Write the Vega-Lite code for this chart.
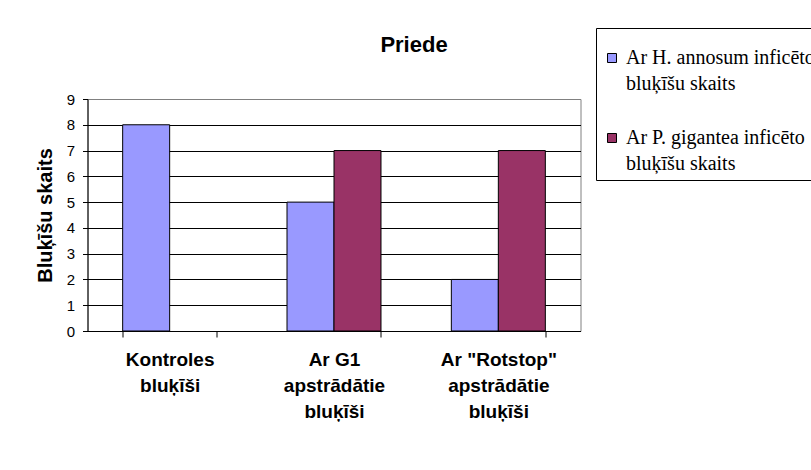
{
  "$schema": "https://vega.github.io/schema/vega-lite/v6.json",
  "width": 493,
  "height": 232,
  "autosize": "none",
  "padding": {"left": 87.5, "top": 99, "right": 230.5, "bottom": 139},
  "background": "white",
  "title": {
    "text": "Priede",
    "anchor": "middle",
    "frame": "group",
    "dx": 80,
    "offset": 0,
    "dy": 46,
    "baseline": "alphabetic",
    "font": "Liberation Sans",
    "fontSize": 22,
    "fontWeight": "bold",
    "color": "black"
  },
  "data": {
    "values": [
      {"group": "Kontroles bluķīši", "series": "Ar H. annosum inficēto bluķīšu skaits", "count": 8},
      {"group": "Ar G1 apstrādātie bluķīši", "series": "Ar H. annosum inficēto bluķīšu skaits", "count": 5},
      {"group": "Ar G1 apstrādātie bluķīši", "series": "Ar P. gigantea inficēto bluķīšu skaits", "count": 7},
      {"group": "Ar \"Rotstop\" apstrādātie bluķīši", "series": "Ar H. annosum inficēto bluķīšu skaits", "count": 2},
      {"group": "Ar \"Rotstop\" apstrādātie bluķīši", "series": "Ar P. gigantea inficēto bluķīšu skaits", "count": 7}
    ]
  },
  "mark": {"type": "bar", "stroke": "black", "strokeWidth": 1},
  "encoding": {
    "x": {
      "field": "group",
      "type": "nominal",
      "sort": ["Kontroles bluķīši", "Ar G1 apstrādātie bluķīši", "Ar \"Rotstop\" apstrādātie bluķīši"],
      "scale": {"paddingInner": 0.428, "paddingOuter": 0.214},
      "axis": {
        "title": null,
        "tickBand": "extent",
        "tickSize": 6,
        "tickColor": "black",
        "domainColor": "black",
        "labelAngle": 0,
        "labelFont": "Liberation Sans",
        "labelFontSize": 19,
        "labelFontWeight": "bold",
        "labelColor": "black",
        "labelLineHeight": 26,
        "labelPadding": 13,
        "labelLimit": 0,
        "labelExpr": "datum.value == 'Kontroles bluķīši' ? ['Kontroles', 'bluķīši'] : datum.value == 'Ar G1 apstrādātie bluķīši' ? ['Ar G1', 'apstrādātie', 'bluķīši'] : datum.value == 'Ar \"Rotstop\" apstrādātie bluķīši' ? ['Ar \"Rotstop\"', 'apstrādātie', 'bluķīši'] : ''"
      }
    },
    "xOffset": {
      "field": "series",
      "type": "nominal",
      "scale": {"domain": ["Ar H. annosum inficēto bluķīšu skaits", "Ar P. gigantea inficēto bluķīšu skaits"], "paddingInner": 0, "paddingOuter": 0}
    },
    "y": {
      "field": "count",
      "type": "quantitative",
      "scale": {"domain": [0, 9], "nice": false},
      "axis": {
        "title": "Bluķīšu skaits",
        "titleFont": "Liberation Sans",
        "titleFontSize": 20,
        "titleFontWeight": "bold",
        "titleColor": "black",
        "titleAngle": 270,
        "titleX": -36.5,
        "titleY": 116,
        "titleAlign": "center",
        "titleBaseline": "alphabetic",
        "values": [0, 1, 2, 3, 4, 5, 6, 7, 8, 9],
        "labelFont": "Liberation Sans",
        "labelFontSize": 15,
        "labelColor": "black",
        "labelPadding": 8,
        "tickSize": 5,
        "tickColor": "black",
        "domainColor": "black",
        "grid": true,
        "gridColor": {"condition": {"test": "datum.value === 9", "value": "#808080"}, "value": "black"},
        "gridOpacity": 1
      }
    },
    "color": {
      "field": "series",
      "type": "nominal",
      "scale": {"domain": ["Ar H. annosum inficēto bluķīšu skaits", "Ar P. gigantea inficēto bluķīšu skaits"], "range": ["#9999FF", "#993366"]},
      "legend": {
        "orient": "none",
        "legendX": 508.5,
        "legendY": -71,
        "title": " ",
        "titleFontSize": 10,
        "titlePadding": 4,
        "strokeColor": "black",
        "fillColor": "white",
        "padding": 6,
        "symbolType": "square",
        "symbolSize": 81,
        "symbolStrokeColor": "black",
        "symbolStrokeWidth": 1,
        "symbolOpacity": 1,
        "labelFont": "Liberation Serif",
        "labelFontSize": 20,
        "labelColor": "black",
        "labelLimit": 0,
        "labelOffset": 4,
        "rowPadding": 34,
        "labelExpr": "[replace(datum.value, ' bluķīšu skaits', ''), 'bluķīšu skaits']",
        "encode": {"labels": {"update": {"lineHeight": {"value": 26}}}}
      }
    }
  },
  "config": {"view": {"stroke": "#808080", "strokeWidth": 1}}
}
